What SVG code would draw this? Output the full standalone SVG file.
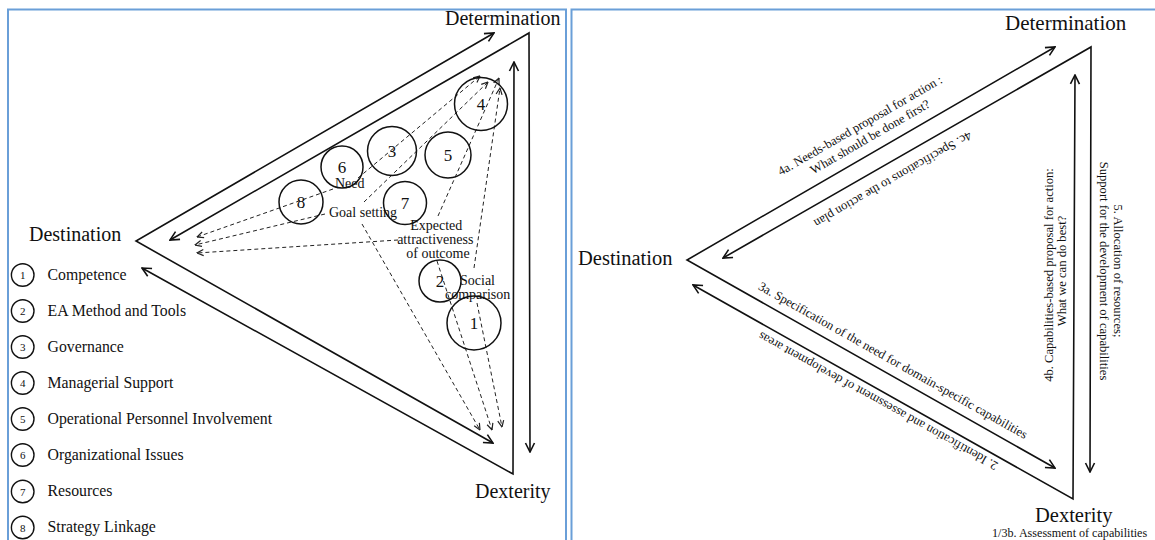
<svg xmlns="http://www.w3.org/2000/svg" width="1155" height="540" viewBox="0 0 1155 540" font-family="'Liberation Serif', 'Times New Roman', serif">
  <defs>
    <style>
      .frame { fill: none; stroke: #6a9fd8; stroke-width: 2; }
      .edge { fill: none; stroke: #111; stroke-width: 1.6; stroke-linejoin: miter; marker-start: url(#ah); marker-end: url(#ah); }
      .dash { fill: none; stroke: #222; stroke-width: 1; stroke-dasharray: 4 3; marker-end: url(#dh); }
      .ring { fill: none; stroke: #111; stroke-width: 1.5; }
      .lring { fill: none; stroke: #111; stroke-width: 1.4; }
      .serif { font-family: "Liberation Serif", "Times New Roman", serif; fill: #111; }
      .vertex { font-size: 20px; }
      .num { font-size: 17px; text-anchor: middle; }
      .lnum { font-size: 11px; text-anchor: middle; }
      .legend { font-size: 15.8px; }
      .factor { font-size: 14px; }
      .step { font-size: 12.6px; text-anchor: middle; }
    </style>
    <marker id="ah" viewBox="0 0 12 12" refX="11" refY="6" markerWidth="12" markerHeight="12" markerUnits="userSpaceOnUse" orient="auto-start-reverse">
      <path d="M2,1.5 L11,6 L2,10.5" fill="none" stroke="#111" stroke-width="1.6"/>
    </marker>
    <marker id="dh" viewBox="0 0 8 8" refX="7.5" refY="4" markerWidth="8" markerHeight="8" markerUnits="userSpaceOnUse" orient="auto">
      <path d="M1,1 L7.5,4 L1,7" fill="none" stroke="#222" stroke-width="1.2"/>
    </marker>
  </defs>

  <rect width="1155" height="540" fill="#fff"/>

  <!-- panel frames -->
  <g id="frames">
    <path class="frame" d="M8,545 L8,9.5 L566,9.5 L566,545"/>
    <path class="frame" d="M571.5,545 L571.5,9.5 L1160,9.5"/>
  </g>

  <!-- ===== left panel ===== -->
  <g id="left-connectors">
    <!-- triangle sides: each corner sends an arrow to the next corner -->
    <path class="edge" d="M494,33 L136,241 L493,443"/>
    <path class="edge" d="M170,240 L529,33 L530,452"/>
    <path class="edge" d="M142,268 L513,474 L514,62"/>
    <!-- dashed influences -->
    <path class="dash" d="M333,189 L197,237"/>
    <path class="dash" d="M325,214 L195,245"/>
    <path class="dash" d="M398,240 L197,253"/>
    <path class="dash" d="M358,178 L480,76"/>
    <path class="dash" d="M364,202 L488,82"/>
    <path class="dash" d="M438,216 L499,78"/>
    <path class="dash" d="M474,268 L500,88"/>
    <path class="dash" d="M362,224 L480,430"/>
    <path class="dash" d="M437,261 L492,430"/>
    <path class="dash" d="M477,303 L502,427"/>
  </g>

  <g id="left-vertices" class="serif">
    <text id="l-determination" class="vertex" x="445" y="25">Determination</text>
    <text id="l-destination" class="vertex" x="29" y="241">Destination</text>
    <text id="l-dexterity" class="vertex" x="475" y="498">Dexterity</text>
  </g>

  <g id="factors" class="serif">
    <g id="f4"><circle class="ring" cx="481" cy="104" r="26.5"/><text class="num" x="481" y="110">4</text></g>
    <g id="f3"><circle class="ring" cx="392" cy="151" r="24.5"/><text class="num" x="392" y="157">3</text></g>
    <g id="f5"><circle class="ring" cx="448" cy="155" r="23"/><text class="num" x="448" y="161">5</text></g>
    <g id="f6"><circle class="ring" cx="342" cy="167" r="21"/><text class="num" x="342" y="173">6</text></g>
    <g id="f8"><circle class="ring" cx="301" cy="202" r="22"/><text class="num" x="301" y="208">8</text></g>
    <g id="f7"><circle class="ring" cx="405" cy="203" r="21.5"/><text class="num" x="405" y="209">7</text></g>
    <g id="f2"><circle class="ring" cx="440" cy="281" r="21"/><text class="num" x="440" y="287">2</text></g>
    <g id="f1"><circle class="ring" cx="474" cy="323" r="27"/><text class="num" x="474" y="329">1</text></g>
  </g>

  <g id="factor-labels" class="serif factor">
    <text id="lbl-need" x="335" y="188">Need</text>
    <text id="lbl-goal" x="329" y="217">Goal setting</text>
    <text id="lbl-expected" text-anchor="middle">
      <tspan x="438" y="230">Expected</tspan>
      <tspan x="437" y="244">attractiveness</tspan>
      <tspan x="438" y="258">of outcome</tspan>
    </text>
    <text id="lbl-social">
      <tspan x="460" y="285">Social</tspan>
      <tspan x="445" y="299">comparison</tspan>
    </text>
  </g>

  <g id="legend" class="serif">
    <g id="leg1"><circle class="lring" cx="22.7" cy="275" r="11.3"/><text class="lnum" x="22.7" y="279">1</text><text class="legend" x="47.5" y="279.5">Competence</text></g>
    <g id="leg2"><circle class="lring" cx="22.7" cy="311" r="11.3"/><text class="lnum" x="22.7" y="315">2</text><text class="legend" x="47.5" y="315.5">EA Method and Tools</text></g>
    <g id="leg3"><circle class="lring" cx="22.7" cy="347" r="11.3"/><text class="lnum" x="22.7" y="351">3</text><text class="legend" x="47.5" y="351.5">Governance</text></g>
    <g id="leg4"><circle class="lring" cx="22.7" cy="383" r="11.3"/><text class="lnum" x="22.7" y="387">4</text><text class="legend" x="47.5" y="387.5">Managerial Support</text></g>
    <g id="leg5"><circle class="lring" cx="22.7" cy="419" r="11.3"/><text class="lnum" x="22.7" y="423">5</text><text class="legend" x="47.5" y="423.5">Operational Personnel Involvement</text></g>
    <g id="leg6"><circle class="lring" cx="22.7" cy="455" r="11.3"/><text class="lnum" x="22.7" y="459">6</text><text class="legend" x="47.5" y="459.5">Organizational Issues</text></g>
    <g id="leg7"><circle class="lring" cx="22.7" cy="491.5" r="11.3"/><text class="lnum" x="22.7" y="495.5">7</text><text class="legend" x="47.5" y="496">Resources</text></g>
    <g id="leg8"><circle class="lring" cx="22.7" cy="527.5" r="11.3"/><text class="lnum" x="22.7" y="531.5">8</text><text class="legend" x="47.5" y="532">Strategy Linkage</text></g>
  </g>

  <!-- ===== right panel ===== -->
  <g id="right-connectors">
    <path class="edge" d="M1055,47 L687,260 L1055,468"/>
    <path class="edge" d="M723,258 L1091,47 L1090,472"/>
    <path class="edge" d="M693,285 L1073,499 L1075,75"/>
  </g>

  <g id="right-vertices" class="serif">
    <text id="r-determination" class="vertex" x="1005" y="30" style="font-size:21px">Determination</text>
    <text id="r-destination" class="vertex" x="578" y="265" style="font-size:20.5px">Destination</text>
    <text id="r-dexterity" class="vertex" x="1035" y="522" style="font-size:20.5px">Dexterity</text>
    <text id="r-assess" x="992" y="537" style="font-size:12.1px">1/3b. Assessment of capabilities</text>
  </g>

  <g id="step-labels" class="serif">
    <g id="s4a" transform="translate(862,129) rotate(-30)">
      <text class="step" x="0" y="0">4a. Needs-based proposal for action :</text>
      <text class="step" x="3" y="15">What should be done first?</text>
    </g>
    <g id="s4c" transform="translate(891,176) rotate(150)">
      <text class="step" x="0" y="0">4c. Specifications to the action plan</text>
    </g>
    <g id="s3a" transform="translate(891,364) rotate(29.4)">
      <text class="step" x="0" y="0">3a. Specification of the need for domain-specific capabilities</text>
    </g>
    <g id="s2" transform="translate(880,397.5) rotate(-151)">
      <text class="step" x="0" y="0">2. Identification and assessment of development areas</text>
    </g>
    <g id="s4b" transform="translate(1053,275) rotate(-90)">
      <text class="step" x="0" y="0">4b. Capabilities-based proposal for action:</text>
      <text class="step" x="4" y="13">What we can do best?</text>
    </g>
    <g id="s5" transform="translate(1114,271) rotate(90)">
      <text class="step" x="0" y="0">5. Allocation of resources;</text>
      <text class="step" x="0" y="14">Support for the development of capabilities</text>
    </g>
  </g>
</svg>
